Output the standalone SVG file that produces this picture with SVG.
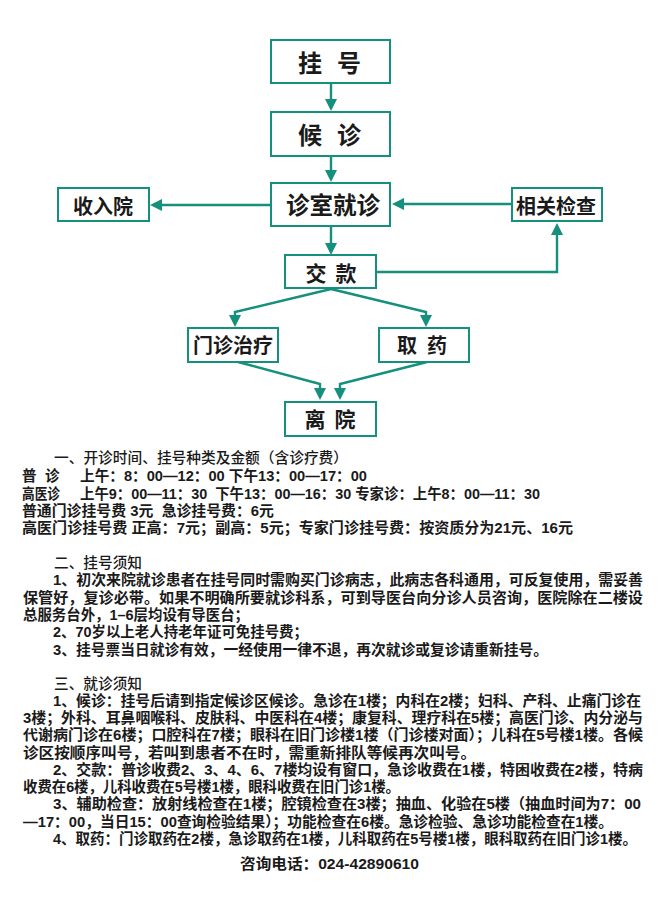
<svg xmlns="http://www.w3.org/2000/svg" width="661" height="900" viewBox="0 0 661 900">
<style>
.box{fill:#fff;stroke:#15907c;stroke-width:2}
.lbl{font-family:"Noto Sans CJK SC",sans-serif;font-weight:bold;fill:#1a1a1a;text-anchor:middle}
.conn{fill:none;stroke:#15907c;stroke-width:2.4;marker-end:url(#ah)}
.t{font-family:"Liberation Sans","Noto Sans CJK SC",sans-serif;font-size:14.5px;font-weight:bold;fill:#1a1a1a}
.h{font-weight:500}
</style>
<defs>
<marker id="ah" markerUnits="userSpaceOnUse" markerWidth="12" markerHeight="12" viewBox="0 0 12 12" refX="0" refY="6" orient="auto">
<path d="M0,0 L12,6 L0,12 z" fill="#15907c"/>
</marker>
</defs>
<rect width="661" height="900" fill="#fff"/>

<g id="connectors">
<path class="conn" d="M331 83 L331 99"/>
<path class="conn" d="M331 156 L331 170"/>
<path class="conn" d="M271 205 L162 205"/>
<path class="conn" d="M512 204 L404 204"/>
<path class="conn" d="M331 226 L331 243"/>
<path class="conn" d="M376 272 L557 272 L557 235"/>
<path class="conn" d="M331 289 L235 312 L235 315"/>
<path class="conn" d="M331 289 L426 312 L426 315"/>
<path class="conn" d="M238 362 L320 384 L320 388"/>
<path class="conn" d="M427 362 L340 384 L340 388"/>
</g>

<g id="node-guahao">
<rect class="box" x="271" y="40" width="119" height="43"/>
<text class="lbl" font-size="24" x="310 349" y="71.5">挂号</text>
</g>
<g id="node-houzhen">
<rect class="box" x="271" y="112" width="119" height="44"/>
<text class="lbl" font-size="24" x="310 349" y="144">候诊</text>
</g>
<g id="node-zhenshi">
<rect class="box" x="271" y="183" width="119" height="43"/>
<text class="lbl" font-size="23.5" x="333" y="214">诊室就诊</text>
</g>
<g id="node-shouruyuan">
<rect class="box" x="58" y="188" width="91" height="33"/>
<text class="lbl" font-size="20" x="103" y="214">收入院</text>
</g>
<g id="node-jiancha">
<rect class="box" x="512" y="188" width="90" height="33"/>
<text class="lbl" font-size="20" x="556" y="214">相关检查</text>
</g>
<g id="node-jiaokuan">
<rect class="box" x="285" y="255" width="91" height="33"/>
<text class="lbl" font-size="21" x="316 346" y="280.5">交款</text>
</g>
<g id="node-menzhen">
<rect class="box" x="188" y="328" width="90" height="34"/>
<text class="lbl" font-size="20" x="233" y="353">门诊治疗</text>
</g>
<g id="node-quyao">
<rect class="box" x="379" y="328" width="90" height="34"/>
<text class="lbl" font-size="20" x="407 437" y="353">取药</text>
</g>
<g id="node-liyuan">
<rect class="box" x="285" y="402" width="91" height="34"/>
<text class="lbl" font-size="21" x="315 345" y="426.5">离院</text>
</g>

<g id="notes">
<text class="t h" x="54" y="463" textLength="294" lengthAdjust="spacingAndGlyphs">一、开诊时间、挂号种类及金额（含诊疗费）</text>
<text class="t" x="22" y="481">普</text>
<text class="t" x="45" y="481">诊</text>
<text class="t" x="80" y="481" textLength="287" lengthAdjust="spacingAndGlyphs">上午：8：00—12：00 下午13：00—17：00</text>
<text class="t" x="22" y="499" textLength="38" lengthAdjust="spacingAndGlyphs">高医诊</text>
<text class="t" x="80" y="499" textLength="460" lengthAdjust="spacingAndGlyphs">上午9：00—11：30&#160;&#160;下午13：00—16：30 专家诊：上午8：00—11：30</text>
<text class="t" x="22" y="516" textLength="252" lengthAdjust="spacingAndGlyphs">普通门诊挂号费 3元&#160;&#160;急诊挂号费：6元</text>
<text class="t" x="22" y="533" textLength="551" lengthAdjust="spacingAndGlyphs">高医门诊挂号费 正高：7元；副高：5元；专家门诊挂号费：按资质分为21元、16元</text>

<text class="t h" x="54" y="568" textLength="88" lengthAdjust="spacingAndGlyphs">二、挂号须知</text>
<text class="t" x="53" y="585" textLength="590" lengthAdjust="spacingAndGlyphs">1、初次来院就诊患者在挂号同时需购买门诊病志，此病志各科通用，可反复使用，需妥善</text>
<text class="t" x="23" y="603" textLength="620" lengthAdjust="spacingAndGlyphs">保管好，复诊必带。如果不明确所要就诊科系，可到导医台向分诊人员咨询，医院除在二楼设</text>
<text class="t" x="23" y="620" textLength="226" lengthAdjust="spacingAndGlyphs">总服务台外，1–6层均设有导医台；</text>
<text class="t" x="53" y="637" textLength="255" lengthAdjust="spacingAndGlyphs">2、70岁以上老人持老年证可免挂号费；</text>
<text class="t" x="53" y="655" textLength="495" lengthAdjust="spacingAndGlyphs">3、挂号票当日就诊有效，一经使用一律不退，再次就诊或复诊请重新挂号。</text>

<text class="t h" x="54" y="689" textLength="88" lengthAdjust="spacingAndGlyphs">三、就诊须知</text>
<text class="t" x="53" y="706" textLength="588" lengthAdjust="spacingAndGlyphs">1、候诊：挂号后请到指定候诊区候诊。急诊在1楼；内科在2楼；妇科、产科、止痛门诊在</text>
<text class="t" x="23" y="723" textLength="620" lengthAdjust="spacingAndGlyphs">3楼；外科、耳鼻咽喉科、皮肤科、中医科在4楼；康复科、理疗科在5楼；高医门诊、内分泌与</text>
<text class="t" x="23" y="740" textLength="620" lengthAdjust="spacingAndGlyphs">代谢病门诊在6楼；口腔科在7楼；眼科在旧门诊楼1楼（门诊楼对面）；儿科在5号楼1楼。各候</text>
<text class="t" x="23" y="758" textLength="453" lengthAdjust="spacingAndGlyphs">诊区按顺序叫号，若叫到患者不在时，需重新排队等候再次叫号。</text>
<text class="t" x="53" y="775" textLength="590" lengthAdjust="spacingAndGlyphs">2、交款：普诊收费2、3、4、6、7楼均设有窗口，急诊收费在1楼，特困收费在2楼，特病</text>
<text class="t" x="23" y="792" textLength="377" lengthAdjust="spacingAndGlyphs">收费在6楼，儿科收费在5号楼1楼，眼科收费在旧门诊1楼。</text>
<text class="t" x="53" y="809" textLength="588" lengthAdjust="spacingAndGlyphs">3、辅助检查：放射线检查在1楼；腔镜检查在3楼；抽血、化验在5楼（抽血时间为7：00</text>
<text class="t" x="23" y="827" textLength="590" lengthAdjust="spacingAndGlyphs">—17：00，当日15：00查询检验结果）；功能检查在6楼。急诊检验、急诊功能检查在1楼。</text>
<text class="t" x="53" y="844" textLength="584" lengthAdjust="spacingAndGlyphs">4、取药：门诊取药在2楼，急诊取药在1楼，儿科取药在5号楼1楼，眼科取药在旧门诊1楼。</text>
<text class="t" x="240" y="869" textLength="179" lengthAdjust="spacingAndGlyphs">咨询电话：024-42890610</text>
</g>
</svg>
